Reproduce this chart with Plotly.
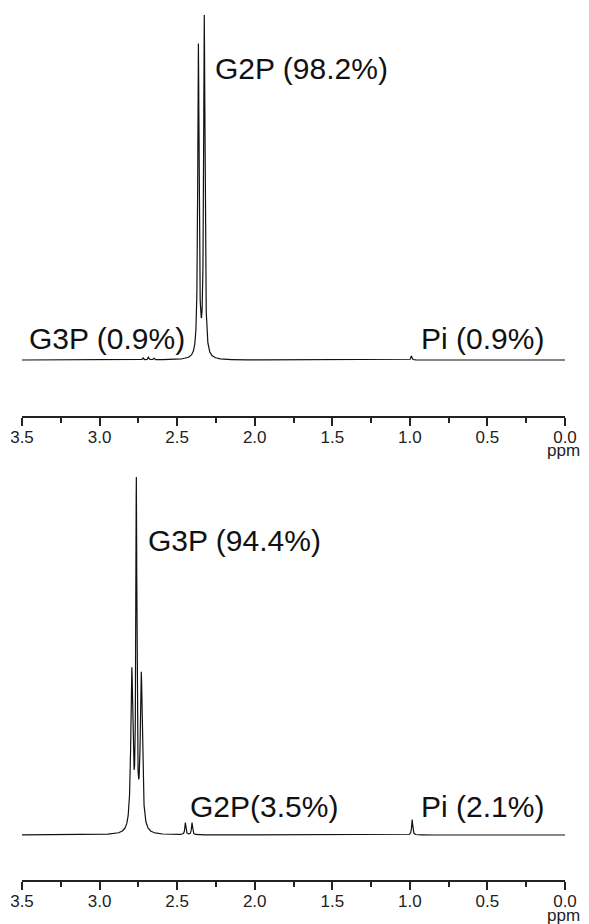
import numpy as np
import plotly.graph_objects as go

# The page body adds an 8 px margin, so the figure is drawn 8 px smaller and
# every screen position below is given in screen pixels and shifted by OFF.
OFF = 8
W, H = 589 - OFF, 924 - OFF

# ---- data: peak lists (ppm, relative height, half-width ppm)
top_ppm = [2.363, 2.325, 2.72, 2.685, 2.65, 0.99]
top_height = [0.915, 1.0, 0.006, 0.008, 0.005, 0.012]
top_width = [0.005, 0.005, 0.004, 0.004, 0.004, 0.004]

bot_ppm = [2.792, 2.763, 2.731, 2.447, 2.404, 0.985]
bot_height = [0.47, 1.0, 0.46, 0.036, 0.036, 0.046]
bot_width = [0.008, 0.004, 0.008, 0.004, 0.004, 0.004]

tick_vals = [3.5, 3.0, 2.5, 2.0, 1.5, 1.0, 0.5, 0.0]
tick_text = ["3.5", "3.0", "2.5", "2.0", "1.5", "1.0", "0.5", "0.0"]

top_labels = ["G2P (98.2%)", "G3P (0.9%)", "Pi (0.9%)"]
bot_labels = ["G3P (94.4%)", "G2P(3.5%)", "Pi (2.1%)"]

ppm_axis = np.linspace(3.5, 0.0, 7001)


def spectrum(centers, heights, widths):
    y = np.zeros_like(ppm_axis)
    for c, h, w in zip(centers, heights, widths):
        y += h / (1.0 + ((ppm_axis - c) / w) ** 2)
    return y


top_y = spectrum(top_ppm, top_height, top_width)
bot_y = spectrum(bot_ppm, bot_height, bot_width)

# ---- layout geometry (screen pixels)
x_left, x_right = 22, 565
top_area = (12, 416)      # plot area top / axis line
top_base, top_peak = 360, 15
bot_area = (470, 880)
bot_base, bot_peak = 835, 477


def sx(px):
    return (px - OFF) / W


def sy(py):
    return 1 - (py - OFF) / H


def yrange(area, base, peak, ymax):
    scale = (base - peak) / ymax
    return [-(area[1] - base) / scale, (base - area[0]) / scale]


def dom(area):
    return [sy(area[1]), sy(area[0])]


fig = go.Figure()
fig.add_trace(go.Scatter(x=ppm_axis, y=top_y, mode="lines",
                         line=dict(color="#111111", width=1.2),
                         xaxis="x", yaxis="y", showlegend=False, hoverinfo="skip"))
fig.add_trace(go.Scatter(x=ppm_axis, y=bot_y, mode="lines",
                         line=dict(color="#111111", width=1.2),
                         xaxis="x2", yaxis="y2", showlegend=False, hoverinfo="skip"))

axis_style = dict(
    range=[3.5, 0.0], tickmode="array", tickvals=tick_vals, ticktext=tick_text,
    showline=True, linecolor="#222222", linewidth=1.5,
    ticks="outside", ticklen=8, tickwidth=1.5, tickcolor="#222222",
    minor=dict(dtick=0.25, ticks="outside", ticklen=5, tickwidth=1.5, tickcolor="#222222"),
    showgrid=False, zeroline=False, automargin=False, ticklabelstandoff=-3,
    tickfont=dict(family="Liberation Sans, Arial, sans-serif", size=17, color="#222222"),
    domain=[sx(x_left), sx(x_right)],
)
yaxis_style = dict(visible=False, showgrid=False, zeroline=False)

fig.update_layout(
    width=W, height=H, margin=dict(l=0, r=0, t=0, b=0),
    paper_bgcolor="white", plot_bgcolor="white",
    xaxis=dict(anchor="y", **axis_style),
    yaxis=dict(domain=dom(top_area), range=yrange(top_area, top_base, top_peak, top_y.max()), **yaxis_style),
    xaxis2=dict(anchor="y2", **axis_style),
    yaxis2=dict(domain=dom(bot_area), range=yrange(bot_area, bot_base, bot_peak, bot_y.max()), **yaxis_style),
)

font_big = dict(family="Liberation Sans, Arial, sans-serif", size=30, color="#111111")
font_small = dict(family="Liberation Sans, Arial, sans-serif", size=17, color="#222222")

label_px = [
    (top_labels[0], 213, 68),
    (top_labels[1], 27, 338),
    (top_labels[2], 419, 338),
    (bot_labels[0], 146, 540),
    (bot_labels[1], 188, 806),
    (bot_labels[2], 419, 806),
]
for txt, px, py in label_px:
    fig.add_annotation(text=txt, x=sx(px), y=sy(py), xref="paper", yref="paper",
                       xanchor="left", yanchor="middle", showarrow=False, font=font_big)

for py in (451, 915):
    fig.add_annotation(text="ppm", x=sx(582), y=sy(py), xref="paper", yref="paper",
                       xanchor="right", yanchor="middle", showarrow=False, font=font_small)

fig.write_html("out.html")
